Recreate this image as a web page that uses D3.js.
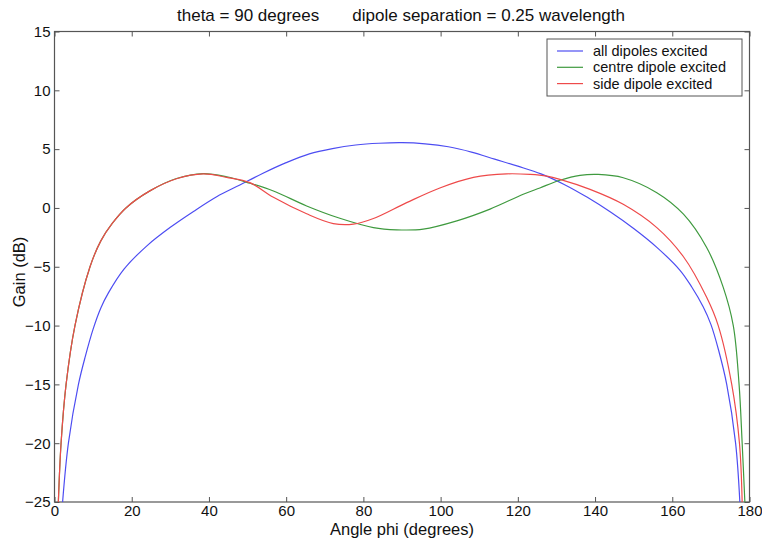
<!DOCTYPE html>
<html>
<head>
<meta charset="utf-8">
<script src="https://cdn.jsdelivr.net/npm/d3@7"></script>
<style>
  body { margin: 0; background: #fff; }
  svg { display: block; font-family: "Liberation Sans", Arial, sans-serif; }
</style>
</head>
<body>
<script>
// gain curves, phi in degrees, gain in dB
const allPhi  = [2.1, 3.6, 6.2, 8, 10, 12, 14, 18, 24, 30, 36, 42, 48, 54, 60, 66, 72, 78, 84, 90, 96, 102, 108, 114, 120, 126, 132, 138, 144, 150, 156, 162, 165, 168, 170, 172, 174.1, 176.4, 177.5];
const allGain = [-25, -20, -15, -12.6, -10.3, -8.5, -7.2, -5.2, -3.2, -1.65, -0.3, 0.95, 1.95, 2.95, 3.85, 4.6, 5.05, 5.35, 5.5, 5.55, 5.45, 5.2, 4.75, 4.15, 3.55, 2.9, 2.0, 0.9, -0.35, -1.75, -3.35, -5.3, -6.7, -8.4, -9.9, -12.1, -15, -20, -25];

const centrePhi  = [1.0, 1.7, 3.0, 5.3, 9.2, 12, 15, 18.5, 24.7, 31.6, 38.5, 44.6, 50.6, 56.7, 65.3, 73.9, 82.6, 88.6, 95.5, 104.2, 112.8, 121.4, 125.7, 130.9, 136.1, 140.8, 147.3, 156, 162.9, 168.9, 173.2, 175.8, 177.3, 178.1, 178.8];
const centreGain = [-25, -20, -15, -10, -5, -2.8, -1.3, 0, 1.45, 2.5, 2.92, 2.65, 2.1, 1.44, 0.17, -0.88, -1.67, -1.86, -1.8, -1.1, -0.1, 1.16, 1.7, 2.35, 2.77, 2.85, 2.57, 1.3, -0.53, -3.36, -6.75, -10, -15, -20, -25];

const sidePhi  = [1.0, 1.7, 3.0, 5.3, 9.2, 12, 15, 18.5, 24.7, 31.6, 38.5, 44.6, 50.6, 56.7, 65.3, 72.2, 77.4, 82.6, 91.2, 99.8, 108.5, 117.1, 123.2, 127.5, 130.9, 138.7, 147.3, 156, 162.9, 168.9, 171.9, 175.4, 177.4, 178.1];
const sideGain = [-25, -20, -15, -10, -5, -2.8, -1.3, 0, 1.45, 2.48, 2.9, 2.6, 2.15, 0.9, -0.5, -1.33, -1.38, -0.9, 0.45, 1.7, 2.6, 2.9, 2.85, 2.7, 2.43, 1.58, 0.31, -1.67, -4.15, -7.6, -10, -15, -20, -25];

const seriesNames = ['all dipoles excited', 'centre dipole excited', 'side dipole excited'];
const seriesColors = ['#4d4df2', '#3f9a3f', '#ee4a4a'];
const xTicks = [0, 20, 40, 60, 80, 100, 120, 140, 160, 180];
const yTicks = [-25, -20, -15, -10, -5, 0, 5, 10, 15];

const width = 762, height = 544;
const plot = {left: 54.5, right: 749.5, top: 31.5, bottom: 502};

const x = d3.scaleLinear().domain([0, 180]).range([plot.left, plot.right]);
const y = d3.scaleLinear().domain([-25, 15]).range([plot.bottom, plot.top]);

const svg = d3.select('body').append('svg')
  .attr('width', width)
  .attr('height', height);

svg.append('clipPath').attr('id', 'clip')
  .append('rect')
  .attr('x', plot.left).attr('y', plot.top)
  .attr('width', plot.right - plot.left)
  .attr('height', plot.bottom - plot.top);

// axes, matlab style: ticks pointing inward on all four sides
function styleAxis(g) {
  g.select('.domain').remove();
  g.selectAll('line').attr('stroke', '#555');
  g.selectAll('text').attr('fill', '#111').style('font-size', '15px');
}

svg.append('g')
  .attr('transform', `translate(0,${plot.bottom})`)
  .call(d3.axisBottom(x).tickValues(xTicks).tickSizeInner(-5).tickSizeOuter(0).tickPadding(3))
  .call(styleAxis);

svg.append('g')
  .attr('transform', `translate(0,${plot.top})`)
  .call(d3.axisTop(x).tickValues(xTicks).tickSizeInner(-5).tickSizeOuter(0).tickFormat(''))
  .call(styleAxis);

svg.append('g')
  .attr('transform', `translate(${plot.left},0)`)
  .call(d3.axisLeft(y).tickValues(yTicks).tickSizeInner(-5).tickSizeOuter(0).tickPadding(4))
  .call(styleAxis);

svg.append('g')
  .attr('transform', `translate(${plot.right},0)`)
  .call(d3.axisRight(y).tickValues(yTicks).tickSizeInner(-5).tickSizeOuter(0).tickFormat(''))
  .call(styleAxis);

svg.append('rect')
  .attr('x', plot.left).attr('y', plot.top)
  .attr('width', plot.right - plot.left)
  .attr('height', plot.bottom - plot.top)
  .attr('fill', 'none')
  .attr('stroke', '#555')
  .attr('stroke-width', 1.2);

// curves
const series = [
  allPhi.map((p, i) => [p, allGain[i]]),
  centrePhi.map((p, i) => [p, centreGain[i]]),
  sidePhi.map((p, i) => [p, sideGain[i]])
];

const line = d3.line()
  .x(d => x(d[0]))
  .y(d => y(d[1]))
  .curve(d3.curveCatmullRom.alpha(0.5));

svg.append('g')
  .attr('clip-path', 'url(#clip)')
  .selectAll('path')
  .data(series)
  .join('path')
    .attr('d', line)
    .attr('fill', 'none')
    .attr('stroke', (d, i) => seriesColors[i])
    .attr('stroke-width', 1.2);

// legend
const legend = svg.append('g').attr('transform', 'translate(547,39)');
legend.append('rect')
  .attr('width', 195).attr('height', 57)
  .attr('fill', '#fff')
  .attr('stroke', '#555');
seriesNames.forEach((name, i) => {
  const row = legend.append('g').attr('transform', `translate(0,${12 + i * 16.3})`);
  row.append('line')
    .attr('x1', 10).attr('x2', 36)
    .attr('stroke', seriesColors[i]).attr('stroke-width', 1.2);
  row.append('text')
    .attr('x', 46).attr('dy', '0.35em')
    .style('font-size', '14.5px')
    .attr('fill', '#111')
    .text(name);
});

// labels
svg.append('text')
  .attr('x', 401).attr('y', 21)
  .attr('text-anchor', 'middle')
  .style('font-size', '17px')
  .style('white-space', 'pre')
  .attr('fill', '#111')
  .text('theta = 90 degrees       dipole separation = 0.25 wavelength');

svg.append('text')
  .attr('x', 402).attr('y', 535)
  .attr('text-anchor', 'middle')
  .style('font-size', '16.5px')
  .attr('fill', '#111')
  .text('Angle phi (degrees)');

svg.append('text')
  .attr('transform', 'translate(25,272) rotate(-90)')
  .attr('text-anchor', 'middle')
  .style('font-size', '16.5px')
  .attr('fill', '#111')
  .text('Gain (dB)');
</script>
</body>
</html>
